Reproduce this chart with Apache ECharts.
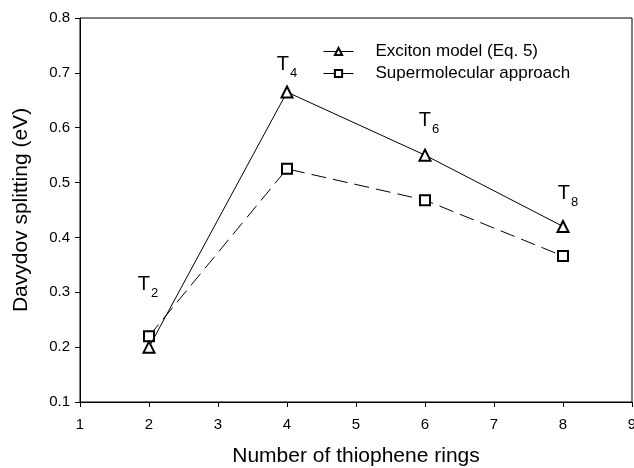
<!DOCTYPE html>
<html>
<head>
<meta charset="utf-8">
<script src="https://cdn.jsdelivr.net/npm/echarts@6/dist/echarts.min.js"></script>
<style>html,body{margin:0;padding:0;background:#fff;}#c{width:634px;height:468px;}</style>
</head>
<body>
<div id="c"></div>
<script>
const rings = [2, 4, 6, 8];
const excitonModel = [0.20, 0.665, 0.55, 0.42];
const supermolecular = [0.22, 0.525, 0.468, 0.366];
const ringLabels = ['2', '4', '6', '8'];
const xTicks = [1, 2, 3, 4, 5, 6, 7, 8, 9];
const yTicks = [0.1, 0.2, 0.3, 0.4, 0.5, 0.6, 0.7, 0.8];
const seriesNames = ['Exciton model (Eq. 5)', 'Supermolecular approach'];

const FONT = "'Liberation Sans', Arial, sans-serif";
const labelOffsets = [[-1, -38], [0, -3], [4, -10], [5, -8]];

const chart = echarts.init(document.getElementById('c'), null, {renderer: 'canvas'});
chart.setOption({
  animation: false,
  backgroundColor: '#fff',
  textStyle: {fontFamily: FONT},
  grid: {left: 80, right: 2, top: 18, bottom: 66, show: true, borderColor: '#000', borderWidth: 1,
         backgroundColor: 'transparent', containLabel: false, outerBoundsMode: 'none'},
  legend: {
    left: 323, top: 43, padding: 0, orient: 'vertical', itemWidth: 30, itemHeight: 9, itemGap: 5,
    lineStyle: {type: 'solid', width: 1, color: '#000'},
    textStyle: {fontSize: 17, color: '#000', fontFamily: FONT, padding: [0, 0, 0, 17]},
    data: seriesNames
  },
  xAxis: {
    type: 'value', min: xTicks[0], max: xTicks[xTicks.length - 1], interval: 1,
    name: 'Number of thiophene rings', nameLocation: 'middle', nameGap: 44,
    nameTextStyle: {fontSize: 21, color: '#000', fontFamily: FONT},
    axisLine: {lineStyle: {color: '#000', width: 1}},
    axisTick: {show: true, length: 5, lineStyle: {color: '#000'}},
    axisLabel: {fontSize: 15, color: '#000', margin: 15, fontFamily: FONT, showMaxLabel: true},
    splitLine: {show: false}
  },
  yAxis: {
    type: 'value', min: yTicks[0], max: yTicks[yTicks.length - 1], interval: 0.1,
    name: 'Davydov splitting (eV)', nameLocation: 'middle', nameGap: 48,
    nameTextStyle: {fontSize: 21, color: '#000', fontFamily: FONT},
    axisLine: {lineStyle: {color: '#000', width: 1}},
    axisTick: {show: true, length: 5, lineStyle: {color: '#000'}},
    axisLabel: {fontSize: 15, color: '#000', margin: 10, fontFamily: FONT, formatter: v => v.toFixed(1)},
    splitLine: {show: false}
  },
  series: [
    {
      name: seriesNames[0], type: 'line',
      data: rings.map((r, i) => ({
        value: [r, excitonModel[i]],
        label: {offset: labelOffsets[i]}
      })),
      symbol: 'emptyTriangle', symbolSize: 11,
      lineStyle: {color: '#000', width: 1},
      itemStyle: {color: '#000', borderColor: '#000', borderWidth: 1},
      label: {
        show: true, position: 'top', distance: 8,
        formatter: p => '{b|T}{s|' + ringLabels[p.dataIndex] + '}',
        rich: {
          b: {fontSize: 20, color: '#000', fontFamily: FONT, lineHeight: 20, verticalAlign: 'bottom'},
          s: {fontSize: 13, color: '#000', fontFamily: FONT, lineHeight: 20, verticalAlign: 'bottom', padding: [0, 0, -5, 1]}
        }
      },
      z: 3
    },
    {
      name: seriesNames[1], type: 'line',
      data: rings.map((r, i) => [r, supermolecular[i]]),
      symbol: 'emptyRect', symbolSize: 10,
      lineStyle: {color: '#000', width: 1, type: [15, 7]},
      itemStyle: {color: '#000', borderColor: '#000', borderWidth: 1},
      z: 2
    }
  ]
});
</script>
</body>
</html>
